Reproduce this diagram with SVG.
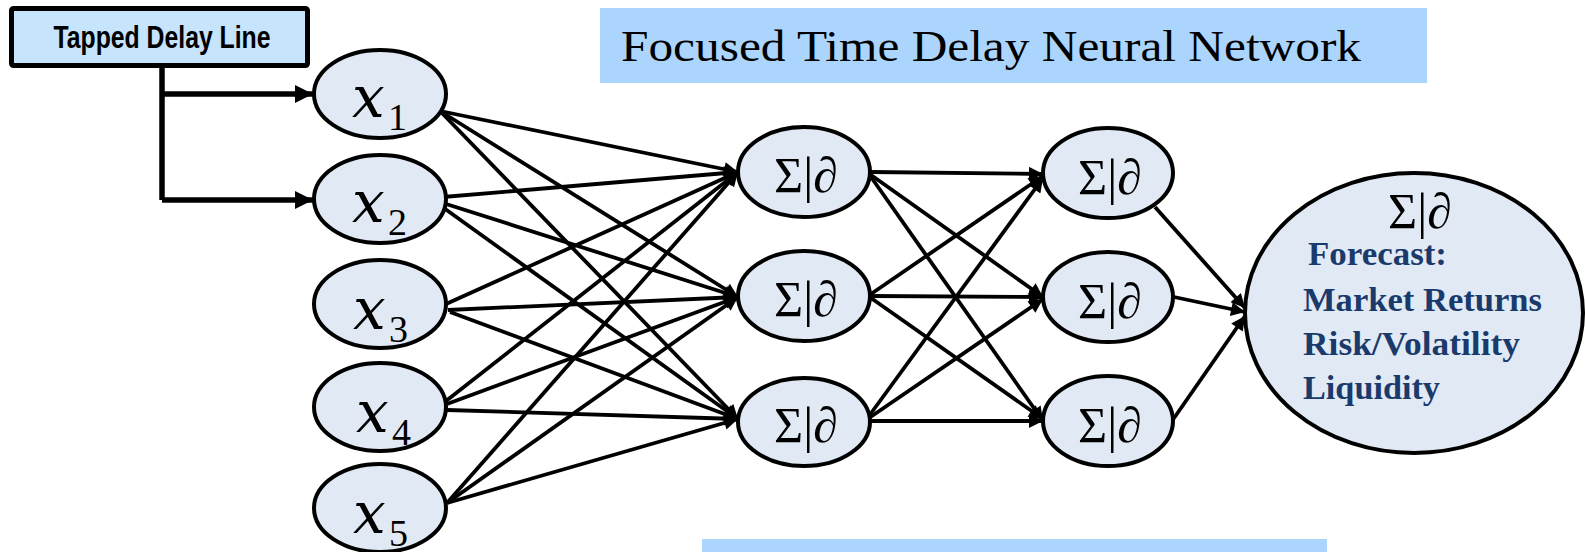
<svg xmlns="http://www.w3.org/2000/svg" width="1585" height="552" viewBox="0 0 1585 552">
  <defs>
    <style>
      .node { fill: #e1eaf4; stroke: #000; stroke-width: 4; }
      .edge { stroke: #000; stroke-width: 3.8; fill: none; marker-end: url(#arrow); }
      .tap { stroke: #000; stroke-width: 5.5; fill: none; }
      .xv { font-family: "DejaVu Serif", "Liberation Serif", serif; font-style: italic; font-size: 58px; fill: #000; }
      .xs { font-family: "Liberation Serif", "DejaVu Serif", serif; font-size: 38px; fill: #000; }
      .sig { font-family: "Liberation Serif", "DejaVu Serif", serif; font-size: 50px; fill: #000; text-anchor: middle; }
      .fc { font-family: "Liberation Serif", "DejaVu Serif", serif; font-weight: bold; font-size: 34px; fill: #1b3a6c; }
    </style>
    <marker id="arrow" viewBox="0 0 10 10" refX="10" refY="5" markerWidth="19" markerHeight="14" markerUnits="userSpaceOnUse" orient="auto">
      <path d="M0,0 L10,5 L0,10 z" fill="#000"/>
    </marker>
    <marker id="tapArrow" viewBox="0 0 10 10" refX="10" refY="5" markerWidth="18" markerHeight="20" markerUnits="userSpaceOnUse" orient="auto">
      <path d="M0,0 L10,5 L0,10 z" fill="#000"/>
    </marker>
  </defs>

  <rect width="1585" height="552" fill="#fff"/>

  <!-- Title banner -->
  <g id="title">
    <rect x="600" y="8" width="827" height="75" fill="#acd5fd"/>
    <text x="621" y="61" font-family="Liberation Serif, DejaVu Serif, serif" font-size="45" textLength="740" lengthAdjust="spacingAndGlyphs" fill="#000">Focused Time Delay Neural Network</text>
  </g>

  <!-- Lower banner -->
  <g id="footer-bar">
    <rect x="702" y="539" width="625" height="13" fill="#acd5fd"/>
  </g>

  <!-- Tapped delay line source -->
  <g id="tapped-delay-line">
    <rect x="11.5" y="8.5" width="296" height="57" fill="#c6e4fb" stroke="#000" stroke-width="5" rx="2"/>
    <text x="162" y="48" font-family="Liberation Sans Narrow, Liberation Sans, sans-serif" font-weight="bold" font-size="32" text-anchor="middle" textLength="217" lengthAdjust="spacingAndGlyphs" fill="#000">Tapped Delay Line</text>
  </g>

  <!-- Connectors -->
  <g id="connectors">
    <!-- delay taps -->
    <path class="tap" d="M162,66 V200"/>
    <path class="tap" d="M162,94 H313" marker-end="url(#tapArrow)"/>
    <path class="tap" d="M162,200 H313" marker-end="url(#tapArrow)"/>

    <!-- input layer to first hidden layer -->
    <line class="edge" x1="440" y1="111" x2="738" y2="172"/>
    <line class="edge" x1="440" y1="111" x2="738" y2="297"/>
    <line class="edge" x1="440" y1="111" x2="738" y2="419"/>

    <line class="edge" x1="443" y1="197" x2="738" y2="172"/>
    <line class="edge" x1="443" y1="203" x2="738" y2="297"/>
    <line class="edge" x1="441" y1="206" x2="738" y2="419"/>

    <line class="edge" x1="446" y1="304" x2="738" y2="172"/>
    <line class="edge" x1="448" y1="310" x2="738" y2="297"/>
    <line class="edge" x1="450" y1="312" x2="738" y2="419"/>

    <line class="edge" x1="446" y1="401" x2="738" y2="172"/>
    <line class="edge" x1="447" y1="404" x2="738" y2="297"/>
    <line class="edge" x1="447" y1="410" x2="738" y2="419"/>

    <line class="edge" x1="447" y1="503" x2="738" y2="172"/>
    <line class="edge" x1="447" y1="503" x2="738" y2="297"/>
    <line class="edge" x1="447" y1="503" x2="738" y2="419"/>

    <!-- first hidden layer to second hidden layer -->
    <line class="edge" x1="871" y1="172" x2="1043" y2="174"/>
    <line class="edge" x1="871" y1="175" x2="1043" y2="297"/>
    <line class="edge" x1="871" y1="177" x2="1043" y2="421"/>

    <line class="edge" x1="871" y1="294" x2="1043" y2="176"/>
    <line class="edge" x1="871" y1="296" x2="1043" y2="297"/>
    <line class="edge" x1="871" y1="298" x2="1043" y2="419"/>

    <line class="edge" x1="869" y1="416" x2="1043" y2="178"/>
    <line class="edge" x1="869" y1="418" x2="1043" y2="299"/>
    <line class="edge" x1="869" y1="421" x2="1043" y2="421"/>

    <!-- second hidden layer to output -->
    <line class="edge" x1="1155" y1="207" x2="1245" y2="308"/>
    <line class="edge" x1="1174" y1="297" x2="1245" y2="312"/>
    <line class="edge" x1="1172" y1="421" x2="1245" y2="316"/>
  </g>

  <!-- Input layer -->
  <g id="x1">
    <ellipse class="node" cx="380" cy="94" rx="66" ry="44"/>
    <text class="xv" x="352" y="117">x</text><text class="xs" x="388" y="130">1</text>
  </g>
  <g id="x2">
    <ellipse class="node" cx="380" cy="199" rx="66" ry="44"/>
    <text class="xv" x="352" y="222">x</text><text class="xs" x="388" y="235">2</text>
  </g>
  <g id="x3">
    <ellipse class="node" cx="380" cy="304" rx="66" ry="44"/>
    <text class="xv" x="353" y="329">x</text><text class="xs" x="389" y="342">3</text>
  </g>
  <g id="x4">
    <ellipse class="node" cx="380" cy="407" rx="66" ry="44"/>
    <text class="xv" x="356" y="432">x</text><text class="xs" x="392" y="445">4</text>
  </g>
  <g id="x5">
    <ellipse class="node" cx="380" cy="508" rx="66" ry="44"/>
    <text class="xv" x="353" y="533">x</text><text class="xs" x="389" y="546">5</text>
  </g>

  <!-- First hidden layer -->
  <g id="h1a">
    <ellipse class="node" cx="804" cy="172" rx="66" ry="45"/>
    <text class="sig" x="806" y="192">Σ|∂</text>
  </g>
  <g id="h1b">
    <ellipse class="node" cx="804" cy="296" rx="66" ry="45"/>
    <text class="sig" x="806" y="316">Σ|∂</text>
  </g>
  <g id="h1c">
    <ellipse class="node" cx="804" cy="422" rx="66" ry="44"/>
    <text class="sig" x="806" y="442">Σ|∂</text>
  </g>

  <!-- Second hidden layer -->
  <g id="h2a">
    <ellipse class="node" cx="1108" cy="173" rx="65" ry="45"/>
    <text class="sig" x="1110" y="194">Σ|∂</text>
  </g>
  <g id="h2b">
    <ellipse class="node" cx="1108" cy="297" rx="65" ry="45"/>
    <text class="sig" x="1110" y="318">Σ|∂</text>
  </g>
  <g id="h2c">
    <ellipse class="node" cx="1108" cy="421" rx="65" ry="45"/>
    <text class="sig" x="1110" y="442">Σ|∂</text>
  </g>

  <!-- Output node -->
  <g id="output">
    <ellipse class="node" cx="1414" cy="313" rx="169" ry="140"/>
    <text class="sig" x="1420" y="228" font-size="46">Σ|∂</text>
    <text class="fc" x="1308" y="265" textLength="139" lengthAdjust="spacingAndGlyphs">Forecast:</text>
    <text class="fc" x="1303" y="311" textLength="239" lengthAdjust="spacingAndGlyphs">Market Returns</text>
    <text class="fc" x="1303" y="355" textLength="217" lengthAdjust="spacingAndGlyphs">Risk/Volatility</text>
    <text class="fc" x="1303" y="399" textLength="137" lengthAdjust="spacingAndGlyphs">Liquidity</text>
  </g>
</svg>
